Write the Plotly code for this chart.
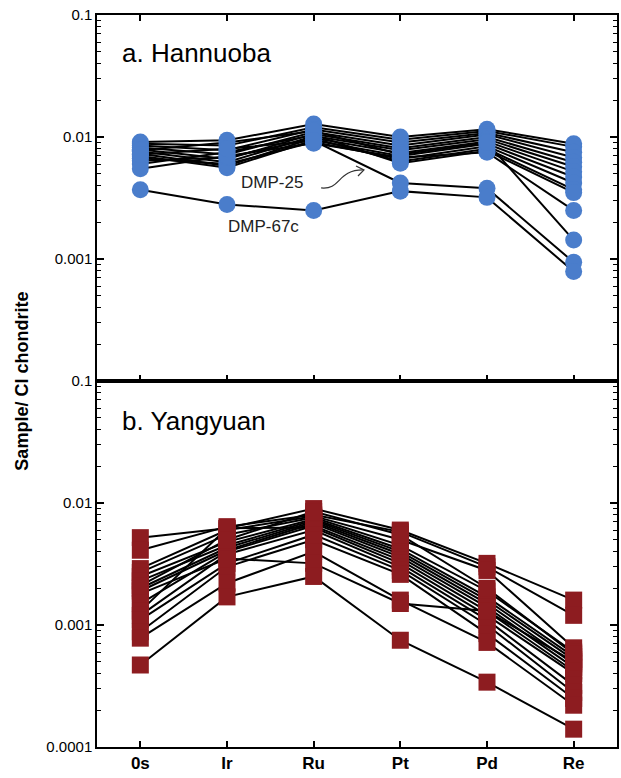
import plotly.graph_objects as go

elements = ["0s", "Ir", "Ru", "Pt", "Pd", "Re"]

# Hannuoba samples (Sample / CI chondrite), order: Os, Ir, Ru, Pt, Pd, Re
hannuoba_main = [
    [0.0091, 0.0094, 0.0128, 0.0100, 0.0116, 0.0088],
    [0.0088, 0.0085, 0.0120, 0.0095, 0.0112, 0.0083],
    [0.0085, 0.0078, 0.0115, 0.0090, 0.0108, 0.0075],
    [0.0082, 0.0072, 0.0110, 0.0085, 0.0105, 0.0068],
    [0.0079, 0.0066, 0.0106, 0.0081, 0.0100, 0.0062],
    [0.0076, 0.0062, 0.0102, 0.0078, 0.0096, 0.0057],
    [0.0073, 0.0058, 0.0098, 0.0074, 0.0092, 0.0052],
    [0.0070, 0.0056, 0.0094, 0.0070, 0.0088, 0.0047],
    [0.0067, 0.0060, 0.0091, 0.0066, 0.0084, 0.0042],
    [0.0064, 0.0068, 0.0097, 0.0063, 0.0080, 0.0037],
    [0.0060, 0.0075, 0.0104, 0.0061, 0.0077, 0.0035],
    [0.0055, 0.0070, 0.0089, 0.0068, 0.0075, 0.0025],
    [0.0078, 0.0090, 0.0112, 0.0072, 0.0090, 0.00143],
]
hannuoba_dmp25 = [0.0072, 0.0080, 0.0093, 0.0042, 0.0038, 0.00094]
hannuoba_dmp67c = [0.0037, 0.0028, 0.0025, 0.0036, 0.0032, 0.00079]

# Yangyuan samples
yangyuan = [
    [0.0052, 0.0062, 0.0090, 0.0060, 0.0032, 0.0016],
    [0.0041, 0.0064, 0.0080, 0.0058, 0.0030, 0.0012],
    [0.0029, 0.0060, 0.0078, 0.0050, 0.0028, 0.00065],
    [0.0027, 0.0055, 0.0076, 0.0045, 0.0019, 0.00060],
    [0.0025, 0.0048, 0.0074, 0.0042, 0.0017, 0.00055],
    [0.0023, 0.0045, 0.0072, 0.0040, 0.0016, 0.00052],
    [0.0020, 0.0043, 0.0070, 0.0038, 0.0015, 0.00048],
    [0.0019, 0.0041, 0.0068, 0.0036, 0.0014, 0.00045],
    [0.0015, 0.0040, 0.0065, 0.0034, 0.0013, 0.00042],
    [0.0013, 0.0062, 0.0063, 0.0032, 0.0012, 0.00040],
    [0.0012, 0.0038, 0.0060, 0.0030, 0.0011, 0.00032],
    [0.0011, 0.0032, 0.0055, 0.0028, 0.0010, 0.00028],
    [0.00088, 0.0030, 0.0050, 0.0026, 0.00085, 0.00025],
    [0.00078, 0.0022, 0.0040, 0.0016, 0.00072, 0.00022],
    [0.0018, 0.0035, 0.0032, 0.0015, 0.0013, 0.00050],
    [0.00047, 0.0017, 0.0025, 0.00075, 0.00034, 0.00014],
    [0.0021, 0.0050, 0.0085, 0.0055, 0.0020, 0.00058],
]

top_ticks = [0.1, 0.01, 0.001]
top_ticktext = ["0.1", "0.01", "0.001"]
bottom_ticks = [0.1, 0.01, 0.001, 0.0001]
bottom_ticktext = ["0.1", "0.01", "0.001", "0.0001"]

BLUE = "#4a7dcb"
RED = "#8d1c20"
FONT = "Liberation Sans, Arial, sans-serif"

W, H = 621, 778
L, R, T, B = 97, 2, 15, 31

xs = list(range(len(elements)))
fig = go.Figure()

han_all = hannuoba_main + [hannuoba_dmp25, hannuoba_dmp67c]
for s in han_all:
    fig.add_trace(go.Scatter(x=xs, y=s, mode="lines", line=dict(color="black", width=2),
                             xaxis="x", yaxis="y", showlegend=False, hoverinfo="skip"))
for s in yangyuan:
    fig.add_trace(go.Scatter(x=xs, y=s, mode="lines", line=dict(color="black", width=2),
                             xaxis="x2", yaxis="y2", showlegend=False, hoverinfo="skip"))

fig.add_trace(go.Scatter(
    x=[x for s in han_all for x in xs], y=[v for s in han_all for v in s],
    mode="markers", marker=dict(symbol="circle", size=17, color=BLUE, line=dict(width=0)),
    xaxis="x", yaxis="y", showlegend=False))
fig.add_trace(go.Scatter(
    x=[x for s in yangyuan for x in xs], y=[v for s in yangyuan for v in s],
    mode="markers", marker=dict(symbol="square", size=17, color=RED, line=dict(width=0)),
    xaxis="x2", yaxis="y2", showlegend=False))


def minor_vals(lo, hi):
    out = []
    for e in range(lo, hi):
        for m in range(2, 10):
            out.append(m * 10 ** e)
    return out


line_common = dict(showline=True, linecolor="black", linewidth=1.5, ticks="inside",
                   tickcolor="black", tickwidth=1.5, showgrid=False, zeroline=False)
minor_common = dict(ticks="inside", ticklen=4, tickcolor="black", tickwidth=1,
                    tickvals=minor_vals(-4, -1))

fig.update_layout(
    width=W, height=H, margin=dict(l=L, r=R, t=T, b=B),
    paper_bgcolor="white", plot_bgcolor="white",
    font=dict(family=FONT, color="black"),
    xaxis=dict(domain=[0, 1], anchor="y", range=[-0.5, 5.5], tickvals=xs, ticktext=elements,
               showticklabels=False, ticklen=6, mirror="ticks", **line_common),
    xaxis2=dict(domain=[0, 1], anchor="y2", range=[-0.5, 5.5], tickvals=xs, ticktext=elements,
                ticklen=6, mirror=True, tickfont=dict(size=17, family=FONT, weight="bold"),
                **line_common),
    yaxis=dict(domain=[0.5, 1], anchor="x", type="log", range=[-4, -1], tickvals=top_ticks,
               ticktext=top_ticktext, ticklen=7, tickfont=dict(size=15), mirror="ticks",
               minor=minor_common, **line_common),
    yaxis2=dict(domain=[0, 0.5], anchor="x2", type="log", range=[-4, -1], tickvals=bottom_ticks,
                ticktext=bottom_ticktext, ticklen=7, tickfont=dict(size=15), mirror="ticks",
                minor=minor_common, **line_common),
)

annotations = [
    dict(text="a. Hannuoba", x=-0.23, y=-1.31, xref="x", yref="y", xanchor="left", yanchor="middle",
         showarrow=False, font=dict(size=26, family=FONT)),
    dict(text="b. Yangyuan", x=-0.23, y=-1.33, xref="x2", yref="y2", xanchor="left", yanchor="middle",
         showarrow=False, font=dict(size=26, family=FONT)),
    dict(text="DMP-25", x=1.52, y=-2.377, xref="x", yref="y", showarrow=False,
         font=dict(size=17, family=FONT, color="#222")),
    dict(text="DMP-67c", x=1.42, y=-2.735, xref="x", yref="y", showarrow=False,
         font=dict(size=17, family=FONT, color="#222")),
    dict(text="<b>Sample/ CI chondrite</b>", x=-0.168, y=0.5, xref="paper", yref="paper",
         textangle=-90, showarrow=False, font=dict(size=18, family=FONT)),
]
fig.update_layout(annotations=annotations)


def px2paper(px, py):
    return (px - L) / (W - L - R), 1 - (py - T) / (H - T - B)


def pt(px, py):
    a, b = px2paper(px, py)
    return f"{a:.4f},{b:.4f}"


curve = f"M {pt(322,188)} C {pt(342,190)} {pt(338,170)} {pt(364,170)}"
head = f"M {pt(357,166)} L {pt(365,170)} L {pt(359,176)}"
fig.add_shape(type="path", path=curve, xref="paper", yref="paper", line=dict(color="#333", width=1.2))
fig.add_shape(type="path", path=head, xref="paper", yref="paper", line=dict(color="#333", width=1.2))

fig.write_html("out.html", config={"displayModeBar": False},
               post_script="document.body.style.margin='0px';")
